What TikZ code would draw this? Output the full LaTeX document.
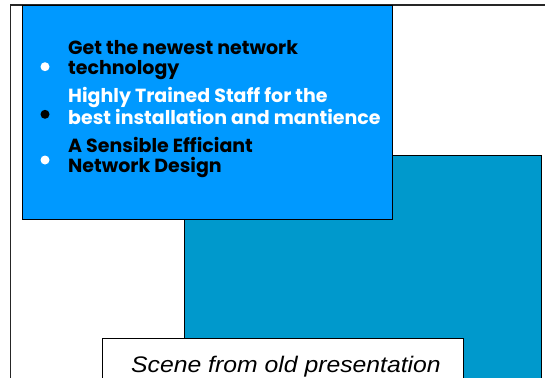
\documentclass[tikz,border=0pt]{standalone}
\usepackage{fontspec}
\setmainfont{Liberation Sans}
\newfontfamily\bulletfont{Poppins Bold}
\definecolor{brightblue}{HTML}{0099FF}
\definecolor{tealblue}{HTML}{0099CC}
\tikzset{
  panel/.style={draw=black, line width=1.3pt},
  itemtext/.style={anchor=base west, inner sep=0pt, align=left, font=\bulletfont\fontsize{19}{20}\selectfont},
  dotmark/.style={circle, inner sep=0pt, minimum size=9pt},
}
\begin{document}
\begin{tikzpicture}[x=1pt,y=-1pt]
\useasboundingbox (0,0) rectangle (545,377);
\clip (0,0) rectangle (545,377);
\fill[white] (0,0) rectangle (545,377);
% outer frame
\draw[line width=1.2pt, black!85] (10.5,390) -- (10.5,5) -- (560,5);
% teal panel
\node[panel, fill=tealblue, anchor=north west, minimum width=357pt, minimum height=240pt, inner sep=0pt] (teal) at (183.5,155) {};
% blue panel
\node[panel, fill=brightblue, anchor=north west, minimum width=370pt, minimum height=214pt, inner sep=0pt] (blue) at (22,5) {};
% bullets
\node[dotmark, fill=white] (d1) at (45,66.7) {};
\node[dotmark, fill=black] (d2) at (45,114.3) {};
\node[dotmark, fill=white] (d3) at (45,160) {};
\node[itemtext, text=black] (t1) at (68,75) {Get the newest network\\technology};
\node[itemtext, text=white] (t2) at (68,124.3) {Highly Trained Staff for the\\best installation and mantience};
\node[itemtext, text=black] (t3) at (68,172.7) {A Sensible Efficiant\\Network Design};
% caption box
\node[panel, line width=1.1pt, fill=white, anchor=north west, minimum width=361pt, minimum height=60pt, inner sep=0pt] (capbox) at (101.5,338) {};
\node[anchor=base, inner sep=0pt, xscale=1.1, font=\fontsize{22.5}{26}\selectfont\itshape] (cap) at (286,372) {Scene from old presentation};
\end{tikzpicture}
\end{document}
